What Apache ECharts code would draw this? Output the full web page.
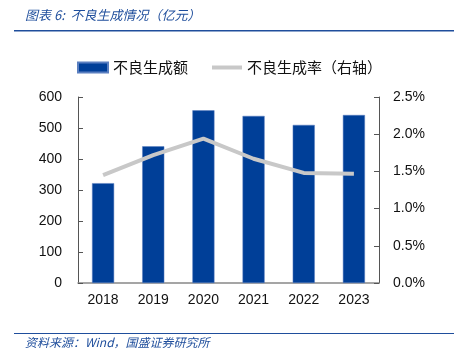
<!DOCTYPE html>
<html>
<head>
<meta charset="utf-8">
<script src="https://cdn.jsdelivr.net/npm/echarts@6/dist/echarts.min.js"></script>
<style>
  html, body { margin: 0; padding: 0; background: #fff; }
  #main { width: 457px; height: 351px; }
</style>
</head>
<body>
<div id="main"></div>
<script>
// 数据
var years = ['2018', '2019', '2020', '2021', '2022', '2023'];
var amount = [322, 441, 557, 539, 510, 542];          // 不良生成额（亿元）
var rate = [1.45, 1.72, 1.94, 1.67, 1.48, 1.47];      // 不良生成率（%）
var leftTicks = [0, 600, 100];
var rightTicks = [0, 2.5, 0.5];

var numFont = 'Liberation Sans, Arial, sans-serif';
var cjkFont = 'Noto Sans CJK SC, sans-serif';

var chart = echarts.init(document.getElementById('main'));
chart.setOption({
    animation: false,
    textStyle: { fontFamily: cjkFont },
    legend: {
        top: 55,
        left: 72,
        itemGap: 24,
        itemWidth: 30,
        itemHeight: 10,
        textStyle: { fontSize: 15, color: '#111', fontFamily: cjkFont },
        data: [
            { name: '不良生成额', icon: 'rect' },
            { name: '不良生成率（右轴）', icon: 'path://M0,0 L30,0 L30,4 L0,4 Z', itemStyle: { color: '#c8c8c8' } }
        ]
    },
    grid: { left: 78, right: 78, top: 97, bottom: 68, containLabel: false },
    xAxis: {
        type: 'category',
        data: years,
        axisLine: { lineStyle: { color: '#888', width: 1.5 } },
        axisTick: { inside: true, length: 5, lineStyle: { color: '#555' } },
        axisLabel: { fontSize: 14, color: '#111', fontFamily: numFont, margin: 10 }
    },
    yAxis: [{
        type: 'value',
        min: leftTicks[0], max: leftTicks[1], interval: leftTicks[2],
        axisLine: { show: true, lineStyle: { color: '#555' } },
        axisTick: { show: true, inside: true, length: 5, lineStyle: { color: '#555' } },
        splitLine: { show: false },
        axisLabel: { fontSize: 14, color: '#111', fontFamily: numFont, margin: 16 }
    }, {
        type: 'value',
        min: rightTicks[0], max: rightTicks[1], interval: rightTicks[2],
        axisLine: { show: true, lineStyle: { color: '#555' } },
        axisTick: { show: true, inside: true, length: 5, lineStyle: { color: '#555' } },
        splitLine: { show: false },
        axisLabel: {
            fontSize: 14, color: '#111', fontFamily: numFont, margin: 14,
            formatter: function (v) { return v.toFixed(1) + '%'; }
        }
    }],
    series: [{
        name: '不良生成额',
        type: 'bar',
        data: amount,
        barWidth: '44%',
        itemStyle: { color: '#003f98', borderColor: '#5a7fc0', borderWidth: 0.5 }
    }, {
        name: '不良生成率（右轴）',
        type: 'line',
        yAxisIndex: 1,
        data: rate,
        symbol: 'none',
        lineStyle: { color: '#c8c8c8', width: 4 },
        itemStyle: { color: '#c8c8c8' }
    }],
    graphic: [
        { type: 'text', left: 25, top: 9, style: { text: '图表 6:  不良生成情况（亿元）', fontSize: 13, fontStyle: 'italic', fill: '#1f4e9c', fontFamily: cjkFont } },
        { type: 'rect', shape: { x: 14, y: 30, width: 440, height: 1.5 }, style: { fill: '#1f4e9c' } },
        { type: 'rect', shape: { x: 14, y: 333, width: 440, height: 1 }, style: { fill: '#1f4e9c' } },
        { type: 'text', left: 25, top: 336, style: { text: '资料来源：Wind，国盛证券研究所', fontSize: 12, fontStyle: 'italic', fill: '#1f4e9c', fontFamily: cjkFont } }
    ]
});
</script>
</body>
</html>
